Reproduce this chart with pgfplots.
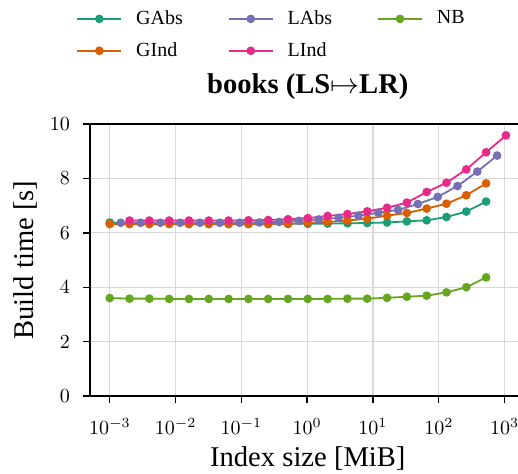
\documentclass[border=0pt]{standalone}
\usepackage{fontspec}
\setmainfont{Liberation Serif}
\usepackage{pgfplots}
\pgfplotsset{compat=1.18}
\definecolor{cGAbs}{HTML}{1B9E77}
\definecolor{cGInd}{HTML}{D95F02}
\definecolor{cLAbs}{HTML}{7570B3}
\definecolor{cLInd}{HTML}{E7298A}
\definecolor{cNB}{HTML}{66A61E}
\begin{document}
\begin{tikzpicture}
\begin{axis}[
  scale only axis, width=217.8pt, height=136pt,
  xmode=log, log basis x=10,
  xmin=5.012e-4, xmax=2089, ymin=0, ymax=10,
  ytick={0,2,4,6,8,10},
  xtick={1e-3,1e-2,1e-1,1,10,100,1000},
  tick align=outside, xtick pos=bottom, ytick pos=left,
  major tick length=3.5pt, minor tick length=2pt,
  every tick/.style={black, line width=0.7pt},
  minor tick style={line width=0.5pt},
  axis line style={line width=1pt},
  grid=major, major grid style={gray!30, line width=0.6pt},
  ticklabel style={font=\fontsize{10}{12}\selectfont},
  xticklabel style={yshift=-4pt},
  yticklabel style={xshift=-3pt},
  xlabel={Index size [MiB]},
  xlabel style={font=\fontsize{14.3}{17}\selectfont, at={(axis description cs:0.5,0)}, anchor=base, yshift=-35pt},
  ylabel={Build time [s]},
  ylabel style={font=\fontsize{14.3}{17}\selectfont, at={(axis description cs:-0.1286,0.5)}, anchor=base},
  title={\textbf{books (LS$\mapsto$LR)}},
  title style={font=\fontsize{14.3}{17}\selectfont, at={(axis description cs:0.5,1)}, anchor=base, yshift=9.5pt},
  legend columns=3,
  legend cell align=left,
  legend style={draw=none, fill=none, at={(axis description cs:-0.0321,1.43)}, anchor=north west,
    font=\fontsize{10}{12}\selectfont, inner sep=0pt, row sep=4.5pt,
    nodes={inner sep=1.5pt},
    /tikz/every odd column/.append style={column sep=5.5pt},
    /tikz/every even column/.append style={column sep=21pt}},
  legend image code/.code={\draw[mark repeat=2,mark phase=2,#1] plot coordinates {(0pt,0pt) (11pt,0pt) (22pt,0pt)};},
  every axis plot/.append style={line width=0.9pt, mark=*, mark size=1.7pt, mark options={solid}},
]
\addplot[color=cGAbs] table {
x y
0.001 6.38
0.002 6.36
0.004 6.35
0.008 6.34
0.016 6.34
0.032 6.33
0.064 6.33
0.128 6.33
0.256 6.33
0.512 6.33
1.024 6.33
2.048 6.34
4.096 6.35
8.192 6.36
16.384 6.38
32.768 6.42
65.536 6.46
131.072 6.58
262.144 6.78
524.288 7.15
};
\addlegendentry{GAbs}
\addplot[color=cLAbs] table {
x y
0.00147 6.37
0.00294 6.37
0.00588 6.37
0.01176 6.37
0.02352 6.37
0.04704 6.37
0.09408 6.37
0.18816 6.38
0.37632 6.40
0.75264 6.44
1.50528 6.49
3.01056 6.55
6.02112 6.63
12.04224 6.74
24.08448 6.84
48.16896 7.06
96.33792 7.32
192.67584 7.72
385.35168 8.25
770.70336 8.84
};
\addlegendentry{LAbs}
\addplot[color=cNB] table {
x y
0.001 3.60
0.002 3.58
0.004 3.58
0.008 3.57
0.016 3.57
0.032 3.57
0.064 3.57
0.128 3.57
0.256 3.57
0.512 3.57
1.024 3.57
2.048 3.57
4.096 3.58
8.192 3.58
16.384 3.61
32.768 3.65
65.536 3.69
131.072 3.81
262.144 4.00
524.288 4.36
};
\addlegendentry{NB}
\addplot[color=cGInd] table {
x y
0.001 6.32
0.002 6.32
0.004 6.32
0.008 6.32
0.016 6.32
0.032 6.32
0.064 6.32
0.128 6.32
0.256 6.32
0.512 6.33
1.024 6.37
2.048 6.40
4.096 6.45
8.192 6.52
16.384 6.63
32.768 6.73
65.536 6.89
131.072 7.07
262.144 7.38
524.288 7.82
};
\addlegendentry{GInd}
\addplot[color=cLInd] table {
x y
0.002 6.45
0.004 6.45
0.008 6.45
0.016 6.45
0.032 6.45
0.064 6.45
0.128 6.46
0.256 6.47
0.512 6.50
1.024 6.54
2.048 6.62
4.096 6.69
8.192 6.79
16.384 6.92
32.768 7.11
65.536 7.50
131.072 7.84
262.144 8.33
524.288 8.96
1048.576 9.58
};
\addlegendentry{LInd}
\end{axis}
\pgfresetboundingbox
\path[use as bounding box] ([xshift=-45pt,yshift=-38.5pt]current axis.south west) rectangle ([xshift=214pt,yshift=62pt]current axis.north west);
\end{tikzpicture}
\end{document}
